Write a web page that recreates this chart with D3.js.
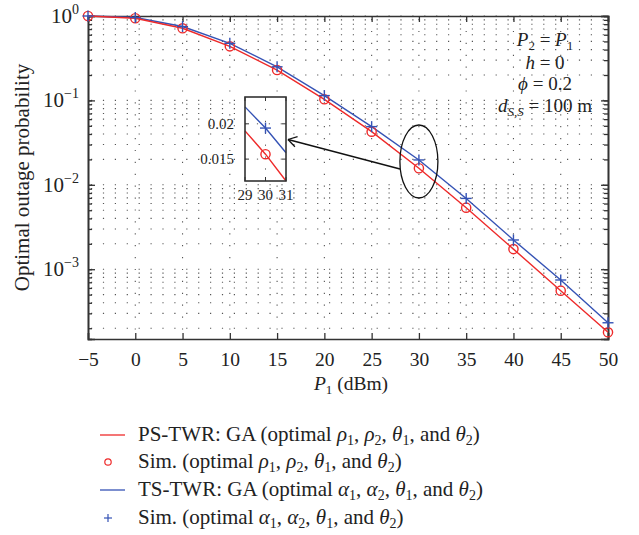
<!DOCTYPE html>
<html>
<head>
<meta charset="utf-8">
<script src="https://cdn.jsdelivr.net/npm/d3@7/dist/d3.min.js"></script>
<style>
  html, body { margin: 0; padding: 0; background: #fff; }
  text { font-family: "Liberation Serif", "DejaVu Serif", serif; fill: #222; }
</style>
</head>
<body>
<svg id="chart" width="639" height="535"></svg>
<script>
// ---- data ----
const xValues = [-5, 0, 5, 10, 15, 20, 25, 30, 35, 40, 45, 50];
const psValues = [1.0, 0.94, 0.715, 0.437, 0.229, 0.103, 0.0426, 0.0157, 0.00536, 0.00173, 0.000557, 0.000179];
const tsValues = [1.0, 0.96, 0.75, 0.475, 0.25, 0.114, 0.0489, 0.0197, 0.0069, 0.00222, 0.000745, 0.000232];
const xTicks = [-5, 0, 5, 10, 15, 20, 25, 30, 35, 40, 45, 50];
const yMajorTicks = [1, 0.1, 0.01, 0.001];
const yTickExponents = ["0", "\u22121", "\u22122", "\u22123"];
// inset (zoom around P1 = 30 dBm)
const insetX = [29, 30, 31];
const insetPS = [0.0190, 0.0157, 0.0119];
const insetTS = [0.0224, 0.0194, 0.0159];
const insetXTicks = [29, 30, 31];
const insetYTicks = [0.015, 0.02];
const insetYLabels = ["0.015", "0.02"];
const legendLabels = [
  "PS-TWR: GA (optimal \u03C1|1, \u03C1|2, \u03B8|1, and \u03B8|2)",
  "Sim. (optimal \u03C1|1, \u03C1|2, \u03B8|1, and \u03B8|2)",
  "TS-TWR: GA (optimal \u03B1|1, \u03B1|2, \u03B8|1, and \u03B8|2)",
  "Sim. (optimal \u03B1|1, \u03B1|2, \u03B8|1, and \u03B8|2)"
];

const RED = "#ee2a2a", BLUE = "#3553b5", AX = "#333";
const svg = d3.select("#chart");

const L = 88, R = 608, T = 16, B = 339;
const x = d3.scaleLinear().domain([-5, 50]).range([L, R]);
const y = d3.scaleLog().domain([1.49e-4, 1]).range([B, T]);

// rich text helper: segments [{t, it, sub}]
function rich(sel, segs, subSize) {
  let down = false;
  segs.forEach(s => {
    const ts = sel.append("tspan").text(s.t);
    if (s.it) ts.attr("font-style", "italic");
    if (s.sub && !down) { ts.attr("dy", 4).attr("font-size", subSize); down = true; }
    else if (s.sub) { ts.attr("font-size", subSize); }
    else if (!s.sub && down) { ts.attr("dy", -4); down = false; }
  });
}

// minor ticks
const yAll = [];
for (let e = -4; e <= 0; e++) for (let m = 1; m <= 9; m++) {
  const v = m * Math.pow(10, e);
  if (v >= 1.49e-4 && v <= 1.0000001) yAll.push(v);
}

// grid
const grid = svg.append("g");
grid.selectAll("line.h").data(yAll).enter().append("line")
  .attr("x1", L + 3).attr("x2", R).attr("y1", d => y(d)).attr("y2", d => y(d))
  .attr("stroke", "#555").attr("stroke-width", 1.1).attr("stroke-dasharray", "1.2,10.7");
grid.selectAll("line.v").data(xTicks.slice(1, -1)).enter().append("line")
  .attr("x1", d => x(d)).attr("x2", d => x(d)).attr("y1", T + 3).attr("y2", B)
  .attr("stroke", "#555").attr("stroke-width", 1.1).attr("stroke-dasharray", "1.2,10.7");

// axes (inward ticks)
const axB = svg.append("g").attr("transform", `translate(0,${B})`)
  .call(d3.axisBottom(x).tickValues(xTicks).tickSize(-6).tickPadding(13)
    .tickFormat(d => d < 0 ? "\u2212" + Math.abs(d) : d));
const axT = svg.append("g").attr("transform", `translate(0,${T})`)
  .call(d3.axisTop(x).tickValues(xTicks).tickSize(-6).tickFormat(""));
const axLmin = svg.append("g").attr("transform", `translate(${L},0)`)
  .call(d3.axisLeft(y).tickValues(yAll).tickSize(-4).tickFormat(""));
const axLmaj = svg.append("g").attr("transform", `translate(${L},0)`)
  .call(d3.axisLeft(y).tickValues(yMajorTicks).tickSize(-7).tickFormat(""));
const axRmin = svg.append("g").attr("transform", `translate(${R},0)`)
  .call(d3.axisRight(y).tickValues(yAll).tickSize(-4).tickFormat(""));
const axRmaj = svg.append("g").attr("transform", `translate(${R},0)`)
  .call(d3.axisRight(y).tickValues(yMajorTicks).tickSize(-7).tickFormat(""));
[axB, axT, axLmin, axLmaj, axRmin, axRmaj].forEach(g => {
  g.selectAll("path.domain").attr("stroke", AX).attr("stroke-width", 1.6);
  g.selectAll(".tick line").attr("stroke", AX).attr("stroke-width", 1.3);
});
axB.selectAll(".tick text").attr("font-size", 19.5).attr("fill", "#222")
  .attr("font-family", "Liberation Serif");

// y tick labels 10^k
yMajorTicks.forEach((v, i) => {
  const t = svg.append("text").attr("x", L - 9).attr("y", y(v) + 7)
    .attr("text-anchor", "end").attr("font-size", 21);
  t.append("tspan").text("10");
  t.append("tspan").attr("dy", -9).attr("font-size", 14).text(yTickExponents[i]);
});

// axis titles
svg.append("text").attr("transform", `translate(29,${(T + B) / 2}) rotate(-90)`)
  .attr("text-anchor", "middle").attr("font-size", 21).text("Optimal outage probability");
const xl = svg.append("text").attr("x", 351).attr("y", 390).attr("text-anchor", "middle").attr("font-size", 19.5);
rich(xl, [{t: "P", it: true}, {t: "1", sub: true}, {t: " (dBm)"}], 13);

// curves
const line = d3.line().x(d => x(d[0])).y(d => y(d[1]));
const psData = xValues.map((v, i) => [v, psValues[i]]);
const tsData = xValues.map((v, i) => [v, tsValues[i]]);
svg.append("path").datum(tsData).attr("d", line).attr("fill", "none").attr("stroke", BLUE).attr("stroke-width", 1.4);
svg.append("path").datum(psData).attr("d", line).attr("fill", "none").attr("stroke", RED).attr("stroke-width", 1.4);
svg.selectAll("circle.ps").data(psData).enter().append("circle")
  .attr("cx", d => x(d[0])).attr("cy", d => y(d[1])).attr("r", 4.6)
  .attr("fill", "none").attr("stroke", RED).attr("stroke-width", 1.4);
const plus = (g, cx, cy, s, color, w) => {
  g.append("line").attr("x1", cx - s).attr("x2", cx + s).attr("y1", cy).attr("y2", cy).attr("stroke", color).attr("stroke-width", w);
  g.append("line").attr("x1", cx).attr("x2", cx).attr("y1", cy - s).attr("y2", cy + s).attr("stroke", color).attr("stroke-width", w);
};
const pg = svg.append("g");
tsData.forEach(d => plus(pg, x(d[0]), y(d[1]), 5.5, BLUE, 1.4));

// ellipse around 30 dBm
svg.append("ellipse").attr("cx", x(30)).attr("cy", 161.5).attr("rx", 19).attr("ry", 36.5)
  .attr("fill", "none").attr("stroke", "#111").attr("stroke-width", 1.3);

// inset
const iL = 245, iR = 286, iT = 97, iB = 181;
const ix = d3.scaleLinear().domain([29, 31]).range([iL, iR]);
const iy = d3.scaleLinear().domain([0.0119, 0.0238]).range([iB, iT]);
const ins = svg.append("g");
ins.append("rect").attr("x", iL).attr("y", iT).attr("width", iR - iL).attr("height", iB - iT).attr("fill", "#fff");
ins.selectAll("line.ih").data(insetYTicks).enter().append("line")
  .attr("x1", iL).attr("x2", iR).attr("y1", d => iy(d)).attr("y2", d => iy(d))
  .attr("stroke", "#555").attr("stroke-dasharray", "1.2,10.7");
ins.append("line").attr("x1", ix(30)).attr("x2", ix(30)).attr("y1", iT).attr("y2", iB)
  .attr("stroke", "#555").attr("stroke-dasharray", "1.2,10.7");
const iline = d3.line().x(d => ix(d[0])).y(d => iy(d[1]));
const insTS = insetX.map((v, i) => [v, insetTS[i]]);
const insPS = insetX.map((v, i) => [v, insetPS[i]]);
ins.append("path").datum(insTS).attr("d", iline).attr("fill", "none").attr("stroke", BLUE).attr("stroke-width", 1.4);
ins.append("path").datum(insPS).attr("d", iline).attr("fill", "none").attr("stroke", RED).attr("stroke-width", 1.4);
ins.append("circle").attr("cx", ix(30)).attr("cy", iy(insetPS[1])).attr("r", 4.6)
  .attr("fill", "none").attr("stroke", RED).attr("stroke-width", 1.4);
plus(ins, ix(30), iy(insetTS[1]), 5.5, BLUE, 1.4);
ins.append("rect").attr("x", iL).attr("y", iT).attr("width", iR - iL).attr("height", iB - iT)
  .attr("fill", "none").attr("stroke", AX).attr("stroke-width", 1.6);
insetYTicks.forEach((v, i) => {
  ins.append("line").attr("x1", iL).attr("x2", iL + 4).attr("y1", iy(v)).attr("y2", iy(v)).attr("stroke", AX);
  ins.append("line").attr("x1", iR - 4).attr("x2", iR).attr("y1", iy(v)).attr("y2", iy(v)).attr("stroke", AX);
  ins.append("text").attr("x", iL - 11).attr("y", iy(v) + 5).attr("text-anchor", "end")
    .attr("font-size", 15).text(insetYLabels[i]);
});
insetXTicks.forEach(v => {
  ins.append("line").attr("x1", ix(v)).attr("x2", ix(v)).attr("y1", iB).attr("y2", iB - 4).attr("stroke", AX);
  ins.append("line").attr("x1", ix(v)).attr("x2", ix(v)).attr("y1", iT).attr("y2", iT + 4).attr("stroke", AX);
  ins.append("text").attr("x", ix(v)).attr("y", 200).attr("text-anchor", "middle")
    .attr("font-size", 15).text(v);
});

// arrow from ellipse to inset
const ax1 = 400, ay1 = 169, ax2 = 288, ay2 = 139.5;
svg.append("line").attr("x1", ax1).attr("y1", ay1).attr("x2", ax2).attr("y2", ay2)
  .attr("stroke", "#111").attr("stroke-width", 1.3);
const ang = Math.atan2(ay1 - ay2, ax1 - ax2);
[0.55, -0.55].forEach(da => {
  svg.append("line").attr("x1", ax2).attr("y1", ay2)
    .attr("x2", ax2 + 10 * Math.cos(ang + da)).attr("y2", ay2 + 10 * Math.sin(ang + da))
    .attr("stroke", "#111").attr("stroke-width", 1.3);
});

// annotation
const ann = svg.append("g").attr("font-size", 19);
const cxA = 545;
rich(ann.append("text").attr("x", cxA).attr("y", 46).attr("text-anchor", "middle"),
  [{t: "P", it: true}, {t: "2", sub: true}, {t: " = "}, {t: "P", it: true}, {t: "1", sub: true}], 13);
rich(ann.append("text").attr("x", cxA).attr("y", 68.5).attr("text-anchor", "middle"),
  [{t: "h", it: true}, {t: " = 0"}], 13);
rich(ann.append("text").attr("x", cxA).attr("y", 90).attr("text-anchor", "middle"),
  [{t: "\u03D5", it: true}, {t: " = 0.2"}], 13);
rich(ann.append("text").attr("x", cxA).attr("y", 111.5).attr("text-anchor", "middle"),
  [{t: "d", it: true}, {t: "S,S", sub: true, it: true}, {t: " = 100 m"}], 13);

// legend
const lg = svg.append("g");
const rowsY = [435, 462, 490, 518];
lg.append("line").attr("x1", 100).attr("x2", 125).attr("y1", rowsY[0]).attr("y2", rowsY[0]).attr("stroke", RED).attr("stroke-width", 1.3);
lg.append("circle").attr("cx", 108).attr("cy", rowsY[1]).attr("r", 3.2).attr("fill", "none").attr("stroke", RED).attr("stroke-width", 1.2);
lg.append("line").attr("x1", 100).attr("x2", 125).attr("y1", rowsY[2]).attr("y2", rowsY[2]).attr("stroke", BLUE).attr("stroke-width", 1.3);
plus(lg, 108, rowsY[3], 4, BLUE, 1.2);
legendLabels.forEach((lab, i) => {
  const t = lg.append("text").attr("x", 138).attr("y", rowsY[i] + 6).attr("font-size", 21);
  const segs = [];
  lab.split(/([\u03B1\u03C1\u03B8]\|\d)/).forEach(p => {
    const m = p.match(/^([\u03B1\u03C1\u03B8])\|(\d)$/);
    if (m) { segs.push({t: m[1], it: true}); segs.push({t: m[2], sub: true}); }
    else if (p.length) segs.push({t: p});
  });
  rich(t, segs, 14);
});
</script>
</body>
</html>
